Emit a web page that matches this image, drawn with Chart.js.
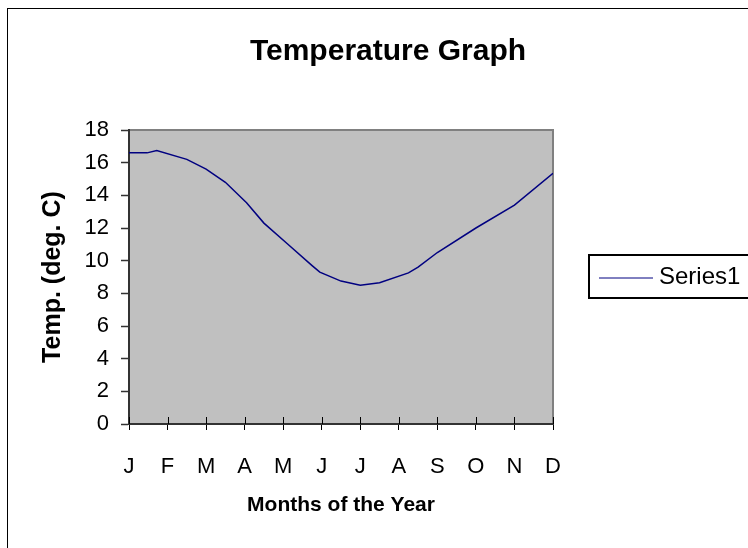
<!DOCTYPE html>
<html><head><meta charset="utf-8">
<script src="https://cdn.jsdelivr.net/npm/chart.js@4.4.0/dist/chart.umd.min.js"></script>
<style>html,body{margin:0;padding:0;background:#fff;}</style>
</head><body>
<canvas id="c" width="748" height="548" style="width:748px;height:548px;display:block"></canvas>
<script>
// ---- data ----
const monthLabels = ['J','F','M','A','M','J','J','A','S','O','N','D'];
const monthPos = [0, 0.47, 0.72, 1.5, 2.0, 2.5, 3.05, 3.5, 4.1, 4.75, 4.95, 5.5, 6.0, 6.5, 7.25, 7.5, 8.0, 9.0, 10.0, 11.0];
const temps    = [16.6, 16.6, 16.75, 16.2, 15.6, 14.8, 13.55, 12.3, 11.05, 9.7, 9.3, 8.75, 8.5, 8.65, 9.25, 9.6, 10.5, 12.0, 13.4, 15.35];
const seriesName = 'Series1';
const chartTitle = 'Temperature Graph';
const xTitle = 'Months of the Year';
const yTitle = 'Temp. (deg. C)';
const yMin = 0, yMax = 18, yStep = 2;

const points = monthPos.map((x, i) => ({x: x, y: temps[i]}));
const FONT = '"Liberation Sans", Arial, sans-serif';

const decor = {
  id: 'decor',
  beforeDraw(chart) {
    const ctx = chart.ctx, a = chart.chartArea;
    ctx.save();
    ctx.fillStyle = '#fff';
    ctx.fillRect(0, 0, chart.width, chart.height);
    ctx.fillStyle = '#c0c0c0';
    ctx.fillRect(a.left, a.top, a.right - a.left, a.bottom - a.top);
    ctx.strokeStyle = '#808080';
    ctx.lineWidth = 2;
    ctx.beginPath();
    ctx.moveTo(a.left, a.top);
    ctx.lineTo(a.right, a.top);
    ctx.lineTo(a.right, a.bottom);
    ctx.stroke();
    // outer border
    ctx.strokeStyle = '#000';
    ctx.lineWidth = 1;
    ctx.strokeRect(7.5, 8.5, 900, 700);
    ctx.restore();
  },
  afterDraw(chart) {
    const ctx = chart.ctx, a = chart.chartArea;
    const xs = chart.scales.x;
    ctx.save();
    // inner part of x tick marks
    ctx.strokeStyle = '#000';
    ctx.lineWidth = 1;
    xs.ticks.forEach(t => {
      const px = Math.round(xs.getPixelForValue(t.value)) + 0.5;
      ctx.beginPath();
      ctx.moveTo(px, a.bottom - 7);
      ctx.lineTo(px, a.bottom);
      ctx.stroke();
    });
    // title
    ctx.fillStyle = '#000';
    ctx.font = 'bold 30px ' + FONT;
    ctx.textAlign = 'center';
    ctx.textBaseline = 'alphabetic';
    ctx.fillText(chartTitle, 388, 60);
    // legend
    ctx.strokeStyle = '#000';
    ctx.lineWidth = 2;
    ctx.strokeRect(589, 255, 200, 43);
    ctx.strokeStyle = '#000080';
    ctx.lineWidth = 1;
    ctx.beginPath();
    ctx.moveTo(599, 278);
    ctx.lineTo(653, 278);
    ctx.stroke();
    ctx.font = '24px ' + FONT;
    ctx.textAlign = 'left';
    ctx.textBaseline = 'middle';
    ctx.fillText(seriesName, 659, 277);
    ctx.restore();
  }
};

new Chart(document.getElementById('c'), {
  type: 'line',
  data: {
    datasets: [{
      label: seriesName,
      data: points,
      borderColor: '#000080',
      borderWidth: 1.5,
      pointRadius: 0,
      tension: 0,
      fill: false
    }]
  },
  options: {
    responsive: false,
    animation: false,
    devicePixelRatio: 1,
    layout: { padding: { left: 0, top: 130, right: 195, bottom: 0 } },
    plugins: { legend: { display: false }, title: { display: false }, tooltip: { enabled: false } },
    scales: {
      x: {
        type: 'linear',
        min: 0, max: monthLabels.length - 1,
        afterFit(s) { s.height = 124; },
        afterBuildTicks(s) { s.ticks = monthLabels.map((m, i) => ({value: i})); },
        ticks: {
          stepSize: 1, autoSkip: false, maxRotation: 0, color: '#000', padding: 24,
          font: { family: FONT, size: 22 },
          callback: (v) => monthLabels[v]
        },
        grid: { drawOnChartArea: false, drawTicks: true, tickLength: 6, tickColor: '#000', tickWidth: 1 },
        border: { display: true, color: '#333', width: 2 },
        title: { display: true, text: xTitle, color: '#000', font: { family: FONT, size: 21, weight: 'bold' }, padding: { top: 0, bottom: 30 } }
      },
      y: {
        min: yMin, max: yMax,
        afterFit(s) { s.width = 129; },
        ticks: { stepSize: yStep, color: '#000', padding: 12, font: { family: FONT, size: 22 } },
        grid: { drawOnChartArea: false, drawTicks: true, tickLength: 8, tickColor: '#333', tickWidth: 1.5 },
        border: { display: true, color: '#333', width: 2 },
        title: { display: true, text: yTitle, color: '#000', font: { family: FONT, size: 25, weight: 'bold' }, padding: { top: 38, bottom: 0 } }
      }
    }
  },
  plugins: [decor]
});
</script>
</body></html>
